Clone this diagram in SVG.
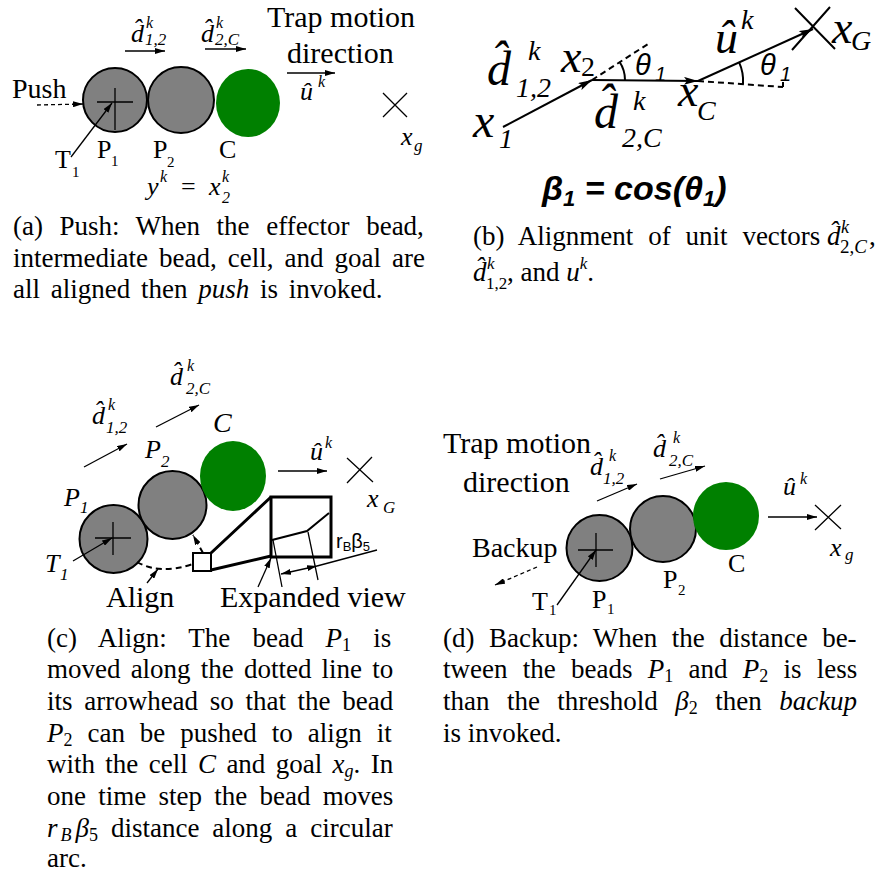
<svg xmlns="http://www.w3.org/2000/svg" width="892" height="877" viewBox="0 0 892 877">
<style>
text{font-family:"Liberation Serif","Times New Roman",serif;fill:#000}
.it{font-style:italic}
.sans{font-family:"Liberation Sans",Arial,sans-serif}
.cap{font-size:27px;fill:#1a1a1a}
.lbl{font-size:28px}
.big{font-size:30px}
.m{font-size:26px;font-style:italic}
.sb{font-size:16px}
.bead{fill:#808080;stroke:#000;stroke-width:2}
.cell{fill:#008000}
.ln{stroke:#000;stroke-width:1.3;fill:none}
.ln2{stroke:#000;stroke-width:2;fill:none}
.ln3{stroke:#000;stroke-width:3;fill:none}
.dash{stroke:#000;stroke-width:1.3;fill:none;stroke-dasharray:4 3}
.dash2{stroke:#000;stroke-width:2;fill:none;stroke-dasharray:6 4}
.arr{marker-end:url(#ah)}
.arrb{marker-end:url(#ahb)}
</style>
<defs>
<marker id="ah" viewBox="0 0 10 6" refX="10" refY="3" markerWidth="10" markerHeight="6" markerUnits="userSpaceOnUse" orient="auto"><path d="M0,0 L10,3 L0,6 z"/></marker>
<marker id="ahb" viewBox="0 0 14 8" refX="14" refY="4" markerWidth="14" markerHeight="8" markerUnits="userSpaceOnUse" orient="auto"><path d="M0,0 L14,4 L0,8 L3,4 z"/></marker>
<marker id="ahs" viewBox="0 0 10 6" refX="10" refY="3" markerWidth="10" markerHeight="6" markerUnits="userSpaceOnUse" orient="auto-start-reverse"><path d="M0,0 L10,3 L0,6 z"/></marker>
</defs>

<!-- ================= Panel (a) ================= -->
<g id="a-P1"><circle class="bead" cx="115" cy="100" r="32"/><path class="ln" d="M97,102 H133 M115,88 V130"/></g>
<g id="a-P2"><circle class="bead" cx="181" cy="100" r="33"/></g>
<g id="a-C"><ellipse class="cell" cx="248" cy="103" rx="32" ry="34"/></g>
<g id="a-goal"><path class="ln" d="M383,93 L407,117 M383,117 L407,93"/></g>
<g id="a-connectors">
<path class="dash arr" d="M37,105 L83,104"/>
<path class="ln arr" d="M71,157 L112,103"/>
<path class="ln arr" d="M125,51 L165,51"/>
<path class="ln arr" d="M205,49 L246,49"/>
<path class="ln arr" d="M287,73 L335,73"/>
</g>
<g id="a-labels">
<text class="lbl" x="12" y="98">Push</text>
<text class="big" x="267" y="27">Trap motion</text>
<text class="big" x="287" y="63">direction</text>
<text class="m" x="131" y="42">d̂</text><text class="it sb" x="146" y="28">k</text><text class="it" font-size="17" x="145" y="45">1,2</text>
<text class="m" x="201" y="42">d̂</text><text class="it sb" x="216" y="28">k</text><text class="it" font-size="17" x="215" y="45">2,C</text>
<text class="m" x="300" y="100">û</text><text class="it sb" x="318" y="87">k</text>
<text class="m" x="401" y="145">x</text><text class="it" font-size="17" x="414" y="151">g</text>
<text font-size="26" x="97" y="158">P</text><text font-size="15" x="111" y="166">1</text>
<text font-size="26" x="153" y="158">P</text><text font-size="15" x="167" y="167">2</text>
<text font-size="26" x="219" y="158">C</text>
<text font-size="26" x="55" y="168">T</text><text font-size="15" x="72" y="177">1</text>
<text class="m" x="147" y="195">y</text><text class="it sb" x="160" y="182">k</text>
<text font-size="26" x="181" y="195">=</text>
<text class="m" x="209" y="195">x</text><text class="it sb" x="222" y="182">k</text><text class="it sb" x="222" y="203">2</text>
</g>
<g id="a-caption" class="cap">
<text x="13" y="235" word-spacing="9.8">(a) Push: When the effector bead,</text>
<text x="13" y="267" word-spacing="4.3">intermediate bead, cell, and goal are</text>
<text x="13" y="298" word-spacing="4">all aligned then <tspan class="it">push</tspan> is invoked.</text>
</g>

<!-- ================= Panel (b) ================= -->
<g id="b-goal"><path class="ln2" d="M795,8 L835,49 M792,50 L830,7"/></g>
<g id="b-connectors">
<path class="ln2 arrb" d="M503,127 L592,80"/>
<path class="ln2 arrb" d="M592,80 L698,81"/>
<path class="ln2 arrb" d="M698,81 L813,29"/>
<path class="dash2" d="M592,80 L648,44"/>
<path class="dash2" d="M698,81 L783,87"/>
<path class="ln2" d="M783,87 L783,82"/>
<path class="ln2" d="M625,80 A33,33 0 0 0 619.5,61.8"/>
<path class="ln2" d="M739,62.2 A45,45 0 0 1 743,84.1"/>
</g>
<g id="b-labels">
<text class="it" font-size="48" x="487" y="85">d̂</text><text class="it" font-size="28" x="528" y="60">k</text><text class="it" font-size="28" x="516" y="97">1,2</text>
<text class="it" font-size="48" x="473" y="137">x</text><text class="it" font-size="28" x="499" y="148">1</text>
<text class="it" font-size="46" x="561" y="72">x</text><text font-size="28" x="581" y="76">2</text>
<text class="sans it" font-size="29" x="635" y="75">θ</text><text class="sans it" font-size="20" x="655" y="81">1</text>
<text class="sans it" font-size="29" x="760" y="75">θ</text><text class="sans it" font-size="20" x="780" y="81">1</text>
<text class="it" font-size="46" x="678" y="106">x</text><text class="it" font-size="28" x="697" y="120">C</text>
<text class="it" font-size="48" x="594" y="128">d̂</text><text class="it" font-size="28" x="633" y="110">k</text><text class="it" font-size="28" x="622" y="147">2,C</text>
<text class="it" font-size="46" x="715" y="53">û</text><text class="it" font-size="28" x="741" y="29">k</text>
<text class="it" font-size="46" x="832" y="43">x</text><text class="it" font-size="28" x="851" y="50">G</text>
<text class="sans" font-size="34" font-weight="bold" font-style="italic" x="542" y="200">β<tspan font-size="22" dy="6">1</tspan><tspan dy="-6"> = cos(θ</tspan><tspan font-size="22" dy="6">1</tspan><tspan dy="-6">)</tspan></text>
</g>
<g id="b-caption" class="cap">
<text x="473" y="245" word-spacing="8.1">(b) Alignment of unit vectors</text>
<text class="it" x="827" y="245">d̂</text><text class="it" font-size="18" x="841" y="233">k</text><text font-size="19" x="840" y="253">2,<tspan class="it">C</tspan></text><text x="869" y="245">,</text>
<text class="it" x="473" y="281">d̂</text><text class="it" font-size="17" x="487" y="269">k</text><text font-size="17" x="486" y="289">1,2</text>
<text x="507" y="281">, and <tspan class="it">u</tspan><tspan font-size="17" class="it" dy="-12">k</tspan><tspan dy="12">.</tspan></text>
</g>

<!-- ================= Panel (c) ================= -->
<g id="c-P1"><circle class="bead" cx="113.5" cy="539" r="34"/><path class="ln" d="M95,538 H131 M113,522 V555"/></g>
<g id="c-P2"><circle class="bead" cx="172.5" cy="505" r="34"/></g>
<g id="c-C"><ellipse class="cell" cx="233" cy="476" rx="33" ry="35"/></g>
<g id="c-goal"><path class="ln" d="M347,458 L373,482 M347,483 L372,457"/></g>
<g id="c-zoom">
<rect class="ln2" x="193" y="553" width="18" height="18"/>
<rect class="ln3" x="271" y="497" width="60" height="60"/>
<path class="ln3" d="M211,553 L271,497 M211,570 L271,556"/>
<path class="ln2" d="M272,540 L307,531 L329,513"/>
<path class="ln" d="M273,540 L282,587 M308,532 L318,580 M317,566 L377,550"/>
</g>
<g id="c-connectors">
<path class="ln arr" d="M73,561 L112,538"/>
<path class="ln arr" d="M84,467 L127,444"/>
<path class="ln arr" d="M156,427 L199,405"/>
<path class="ln arr" d="M278,471 L327,471"/>
<path class="dash2" d="M137,562 Q160,575 193,564"/>
<path class="ln arr" d="M147,583 L158,569"/>
<path class="dash2 arr" d="M203,553 L193,535"/>
<path class="ln arr" d="M258,587 L271,558"/>
<path class="ln" marker-start="url(#ahs)" marker-end="url(#ahs)" d="M281,574 L317,566"/>
</g>
<g id="c-labels">
<text class="m" x="92" y="424">d̂</text><text class="it sb" x="108" y="410">k</text><text class="it" font-size="17" x="106" y="433">1,2</text>
<text class="m" x="170" y="385">d̂</text><text class="it sb" x="187" y="371">k</text><text class="it" font-size="17" x="186" y="394">2,C</text>
<text class="it" font-size="28" x="213" y="432">C</text>
<text class="m" x="64" y="506">P</text><text class="it" font-size="17" x="80" y="513">1</text>
<text class="m" x="145" y="458">P</text><text class="it" font-size="17" x="161" y="467">2</text>
<text class="m" x="310" y="460">û</text><text class="it sb" x="325" y="448">k</text>
<text class="m" x="367" y="507">x</text><text class="it" font-size="17" x="383" y="513">G</text>
<text class="m" x="45" y="572">T</text><text class="it" font-size="17" x="60" y="580">1</text>
<text font-size="30" x="106" y="607">Align</text>
<text font-size="30" x="220" y="607">Expanded view</text>
<text class="sans" font-size="20" x="336" y="548">r<tspan font-size="13" dy="3">B</tspan><tspan dy="-3">β</tspan><tspan font-size="13" dy="3">5</tspan></text>
</g>
<g id="c-caption" class="cap">
<text x="47" y="647" word-spacing="15.4">(c) Align: The bead <tspan class="it">P</tspan><tspan font-size="18" dy="4">1</tspan><tspan dy="-4"> is</tspan></text>
<text x="47" y="678" word-spacing="3.4">moved along the dotted line to</text>
<text x="47" y="710" word-spacing="4.9">its arrowhead so that the bead</text>
<text x="47" y="742" word-spacing="8.2"><tspan class="it">P</tspan><tspan font-size="18" dy="4">2</tspan><tspan dy="-4"> can be pushed to align it</tspan></text>
<text x="47" y="773" word-spacing="3.6">with the cell <tspan class="it">C</tspan> and goal <tspan class="it">x</tspan><tspan class="it" font-size="18" dy="4">g</tspan><tspan dy="-4">. In</tspan></text>
<text x="47" y="805" word-spacing="5.5">one time step the bead moves</text>
<text x="47" y="837" word-spacing="6.2"><tspan class="it">r</tspan><tspan class="it" font-size="18" dx="3" dy="4">B</tspan><tspan class="it" dx="4" dy="-4">β</tspan><tspan font-size="18" dy="4">5</tspan><tspan dy="-4"> distance along a circular</tspan></text>
<text x="47" y="867">arc.</text>
</g>

<!-- ================= Panel (d) ================= -->
<g id="d-P1"><circle class="bead" cx="599.5" cy="548" r="33"/><path class="ln" d="M578,550 H613 M596,533 V567"/></g>
<g id="d-P2"><circle class="bead" cx="663" cy="529" r="33"/></g>
<g id="d-C"><ellipse class="cell" cx="726" cy="516" rx="33" ry="34"/></g>
<g id="d-goal"><path class="ln" d="M815,505 L841,529 M815,530 L841,505"/></g>
<g id="d-connectors">
<path class="ln arr" d="M557,605 L596,550"/>
<path class="dash arr" d="M537,567 L495,585"/>
<path class="ln arr" d="M597,501 L637,484"/>
<path class="ln arr" d="M660,479 L705,466"/>
<path class="ln arr" d="M768,517 L817,517"/>
</g>
<g id="d-labels">
<text class="big" x="443" y="453">Trap motion</text>
<text class="big" x="463" y="492">direction</text>
<text class="m" x="590" y="475">d̂</text><text class="it sb" x="609" y="461">k</text><text class="it" font-size="17" x="603" y="484">1,2</text>
<text class="m" x="653" y="457">d̂</text><text class="it sb" x="673" y="443">k</text><text class="it" font-size="17" x="669" y="466">2,C</text>
<text class="m" x="783" y="495">û</text><text class="it sb" x="800" y="484">k</text>
<text class="m" x="830" y="556">x</text><text class="it" font-size="17" x="845" y="560">g</text>
<text font-size="26" x="728" y="572">C</text>
<text font-size="26" x="663" y="588">P</text><text font-size="15" x="678" y="595">2</text>
<text font-size="26" x="592" y="608">P</text><text font-size="15" x="607" y="614">1</text>
<text font-size="26" x="532" y="610">T</text><text font-size="15" x="549" y="615">1</text>
<text class="lbl" x="472" y="557">Backup</text>
</g>
<g id="d-caption" class="cap">
<text x="443" y="647" word-spacing="7.7">(d) Backup: When the distance be-</text>
<text x="443" y="678" word-spacing="8.5">tween the beads <tspan class="it">P</tspan><tspan font-size="18" dy="4">1</tspan><tspan dy="-4"> and </tspan><tspan class="it">P</tspan><tspan font-size="18" dy="4">2</tspan><tspan dy="-4"> is less</tspan></text>
<text x="443" y="710" word-spacing="10.7">than the threshold <tspan class="it">β</tspan><tspan font-size="18" dy="4">2</tspan><tspan dy="-4"> then </tspan><tspan class="it">backup</tspan></text>
<text x="443" y="742">is invoked.</text>
</g>
</svg>
